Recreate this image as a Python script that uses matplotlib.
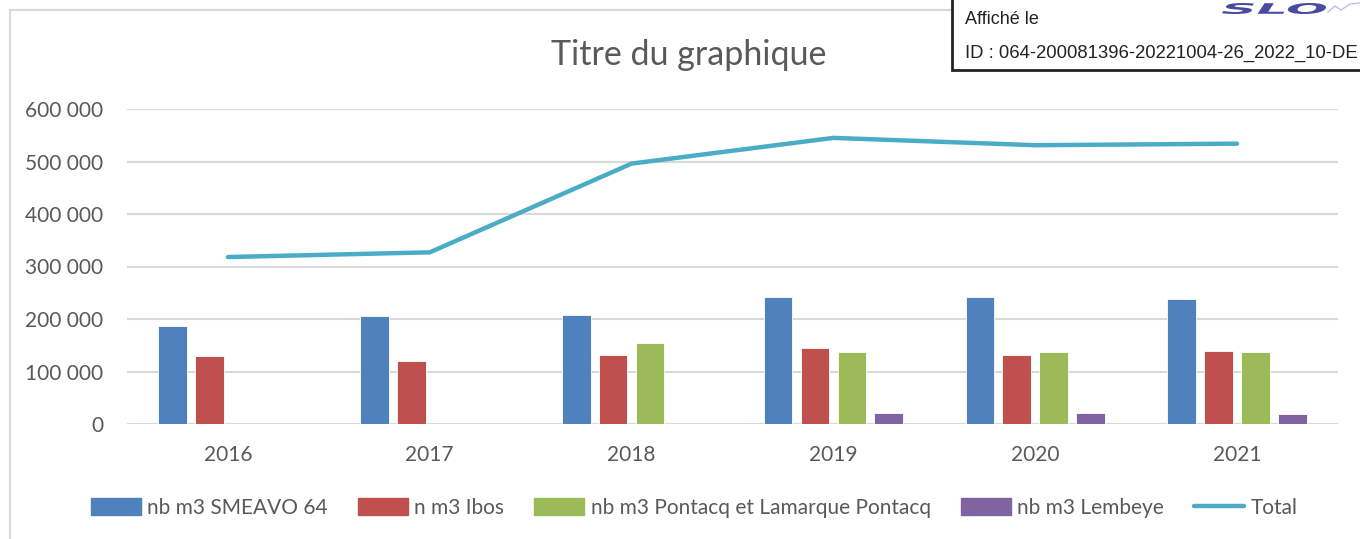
import numpy as np
import matplotlib
matplotlib.use('Agg')
import matplotlib.pyplot as plt
from matplotlib.patches import Rectangle, PathPatch
from matplotlib.lines import Line2D
from matplotlib.textpath import TextPath
from matplotlib.font_manager import FontProperties
from matplotlib.transforms import Affine2D

# data
years = ['2016', '2017', '2018', '2019', '2020', '2021']
smeavo = [187000, 206000, 208000, 242000, 242000, 239000]
ibos = [130000, 120000, 132000, 145000, 131000, 139000]
pontacq = [0, 0, 155000, 137000, 137000, 137000]
lembeye = [0, 0, 0, 21000, 21000, 20000]
total = [318000, 327000, 496000, 545000, 531000, 534000]

series_names = ['nb m3 SMEAVO 64', 'n m3 Ibos', 'nb m3 Pontacq et Lamarque Pontacq', 'nb m3 Lembeye']
colors = ['#4f81bd', '#c0504d', '#9bbb59', '#8064a2']
yticks = [0, 100000, 200000, 300000, 400000, 500000, 600000]

plt.rcParams['font.family'] = ['Lato', 'DejaVu Sans']
grey = '#595959'

W, H = 1360, 539
fig = plt.figure(figsize=(W / 100, H / 100), dpi=100)
ax = fig.add_axes([127 / W, 1 - 424 / H, (1338 - 127) / W, (424 - 109) / H])

x = np.arange(len(years))
width = 0.142
pitch = 0.183
for i, (vals, c) in enumerate(zip([smeavo, ibos, pontacq, lembeye], colors)):
    ax.bar(x + (i - 1.5) * pitch, vals, width, color=c, edgecolor='white', linewidth=0.6,
           label=series_names[i], zorder=3)

ax.plot(x, total, color='#4bacc6', linewidth=3.2, solid_capstyle='round', zorder=4, label='Total')

ax.set_xlim(-0.5, len(years) - 0.5)
ax.set_ylim(0, 600000)
ax.set_yticks(yticks)
ax.set_yticklabels([f'{v:,}'.replace(',', ' ') for v in yticks])
ax.set_xticks(x)
ax.set_xticklabels(years)
ax.tick_params(axis='both', length=0, labelsize=15, colors=grey)
ax.tick_params(axis='y', pad=17)
ax.tick_params(axis='x', pad=15)
ax.grid(axis='y', color='#d9d9d9', linewidth=1.5, zorder=0)
for s in ax.spines.values():
    s.set_visible(False)

fig.text(689 / W, 1 - 55 / H, 'Titre du graphique', ha='center', va='center', fontsize=24.5, color=grey)

handles = [Rectangle((0, 0), 1, 1, color=c) for c in colors]
handles.append(Line2D([], [], color='#4bacc6', linewidth=3.2, solid_capstyle='round'))
fig.legend(handles, series_names + ['Total'], loc='center', bbox_to_anchor=(694 / W, 1 - 508 / H),
           ncol=5, frameon=False, fontsize=15, labelcolor=grey, handlelength=2.4, handleheight=0.85,
           handletextpad=0.3, columnspacing=1.45)

# chart area border
fig.add_artist(Rectangle((10 / W, -0.1), 1.2, 1 - 10 / H + 0.1, transform=fig.transFigure,
                         fill=False, edgecolor='#d9d9d9', linewidth=1.5))

# stamp box at top right
fig.add_artist(Rectangle((952 / W, 1 - 70 / H), 0.5, 0.2, transform=fig.transFigure,
                         facecolor='white', edgecolor='#222222', linewidth=2, zorder=5))
fig.text(965 / W, 1 - 19 / H, 'Affiché le', ha='left', va='center', fontsize=13,
         family='Liberation Sans', color='#222222', zorder=6)
fig.text(965 / W, 1 - 53 / H, 'ID : 064-200081396-20221004-26_2022_10-DE', ha='left', va='center',
         fontsize=13.3, family='Liberation Sans', color='#222222', zorder=6)

# stretched logo
logo = TextPath((0, 0), 'SLO', size=10,
                prop=FontProperties(family='DejaVu Sans', weight='heavy', style='italic'))
ext = logo.get_extents()
sx = 104 / ext.width
sy = 11 / ext.height
tr = Affine2D().translate(-ext.x0, -ext.y0).scale(sx, sy).translate(1222, H - 14)
fig.add_artist(PathPatch(logo, transform=tr, facecolor='#4a4aa0', edgecolor='none', zorder=6))
fig.add_artist(Line2D([1328, 1335, 1341, 1350, 1360], [H - 12, H - 6, H - 10, H - 4, H - 3],
                      transform=None, color='#b8c4e0', linewidth=1, zorder=6))

fig.savefig('out.png', dpi=100)
